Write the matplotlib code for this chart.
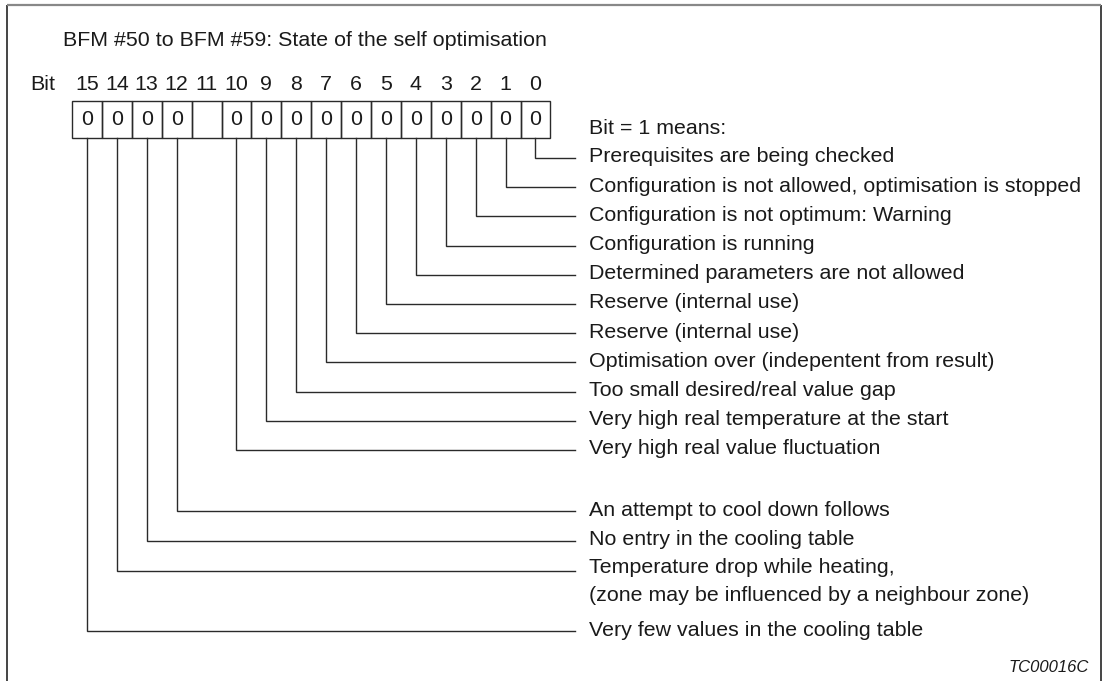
import matplotlib
matplotlib.use("Agg")
import matplotlib.pyplot as plt
from matplotlib.patches import Rectangle

plt.rcParams['font.family'] = ['Liberation Sans', 'DejaVu Sans']

# ---- content ----
title = "BFM #50 to BFM #59: State of the self optimisation"
bits = list(range(15, -1, -1))
bit_values = ["0", "0", "0", "0", "", "0", "0", "0", "0", "0", "0", "0", "0", "0", "0", "0"]
legend_head = "Bit = 1 means:"
desc_bits = [0, 1, 2, 3, 4, 5, 6, 7, 8, 9, 10, 12, 13, 14, 15]
descriptions = [
    "Prerequisites are being checked",
    "Configuration is not allowed, optimisation is stopped",
    "Configuration is not optimum: Warning",
    "Configuration is running",
    "Determined parameters are not allowed",
    "Reserve (internal use)",
    "Reserve (internal use)",
    "Optimisation over (indepentent from result)",
    "Too small desired/real value gap",
    "Very high real temperature at the start",
    "Very high real value fluctuation",
    "An attempt to cool down follows",
    "No entry in the cooling table",
    "Temperature drop while heating,\n(zone may be influenced by a neighbour zone)",
    "Very few values in the cooling table",
]
desc_rows = [0, 1, 2, 3, 4, 5, 6, 7, 8, 9, 10, 12.1, 13.1, 14.15, 16.2]
figure_code = "TC00016C"

# ---- layout (pixels) ----
W, H = 1103, 681
fig = plt.figure(figsize=(W / 100, H / 100), dpi=100)
ax = fig.add_axes([0, 0, 1, 1])
ax.set_xlim(0, W)
ax.set_ylim(H, 0)
ax.axis('off')

fs = 15.4
tc = '#1a1a1a'
lc = '#2a2a2a'
lw = 1.0

# frame (open at the bottom)
ax.plot([7, 7], [H + 2, 4.5], color='#444444', lw=1.4, solid_capstyle='butt')
ax.plot([1101, 1101], [H + 2, 4.5], color='#444444', lw=1.4, solid_capstyle='butt')
ax.plot([7, 1101], [4.5, 4.5], color='#888888', lw=1.6, solid_capstyle='butt')

ax.text(63, 41, title, fontsize=fs, color=tc, va='center', ha='left')

box_left = 72
box_w = 29.9
box_top, box_bot = 101, 138
ax.text(30, 84, "Bit", fontsize=fs, color=tc, va='center', ha='left')
for i, (b, v) in enumerate(zip(bits, bit_values)):
    x0 = box_left + i * box_w
    ax.add_patch(Rectangle((x0, box_top), box_w, box_bot - box_top, fill=False,
                           edgecolor=lc, lw=lw))
    ax.text(x0 + box_w / 2, 84, str(b), fontsize=fs, color=tc, va='center', ha='center')
    if v:
        ax.text(x0 + box_w / 2, 119.5, v, fontsize=fs, color=tc, va='center', ha='center')

row0, row_step = 158, 29.2
line_end = 575
text_x = 589
ax.text(text_x, 129, legend_head, fontsize=fs, color=tc, va='center', ha='left')
for b, d, r in zip(desc_bits, descriptions, desc_rows):
    y = row0 + r * row_step
    i = bits.index(b)
    xc = box_left + i * box_w + box_w / 2
    ax.plot([xc, xc, line_end], [box_bot, y, y], color=lc, lw=lw,
            solid_joinstyle='miter')
    if '\n' in d:
        ax.text(text_x, y - 13, d, fontsize=fs, color=tc, va='top', ha='left',
                linespacing=1.58)
    else:
        ax.text(text_x, y - 1, d, fontsize=fs, color=tc, va='center', ha='left')

ax.text(1089, 668, figure_code, fontsize=12, color=tc, va='center', ha='right',
        style='italic')

fig.savefig("out.png", dpi=100)
